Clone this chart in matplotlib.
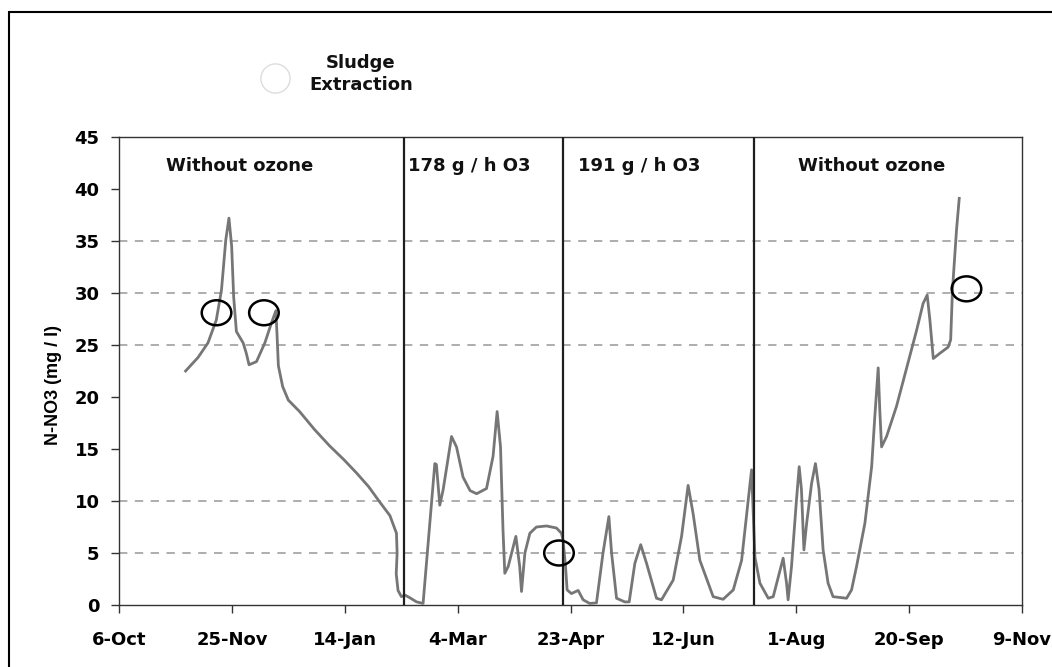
import numpy as np
import matplotlib
matplotlib.use('Agg')
import matplotlib.pyplot as plt
from matplotlib.patches import Ellipse, Rectangle

# x = days since 6-Oct, y = N-NO3 (mg/l)
days = [29.5, 35.0, 39.4, 43.1, 45.4, 47.3, 48.7, 49.9, 50.8, 52.0, 55.0, 56.4,
        57.6, 60.9, 64.6, 67.5, 69.5, 70.0, 70.6, 72.5, 75.0, 80.0, 86.5, 93.3,
        99.5, 105.2, 110.5, 115.5, 120.0, 122.9, 123.2, 122.8, 123.6, 125.1,
        126.6, 128.8, 131.8, 134.7, 139.9, 140.6, 142.1, 143.6, 147.3, 149.5,
        152.4, 155.5, 158.4, 162.8, 165.7, 167.5, 169.0, 170.1, 170.9, 172.4,
        175.8, 177.5, 178.3, 179.8, 182.0, 184.9, 189.4, 193.8, 196.0, 196.7,
        197.8, 198.5, 200.4, 203.4, 205.6, 208.5, 211.5, 214.4, 217.0, 218.2,
        220.4, 224.0, 226.0, 228.5, 231.1, 233.7, 238.1, 240.3, 245.5, 249.2,
        252.1, 254.3, 257.3, 263.2, 267.6, 272.1, 275.8, 280.2, 281.7, 283.9,
        287.6, 289.8, 294.2, 295.7, 296.4, 297.9, 300.1, 301.3, 302.3, 303.4,
        304.6, 306.8, 308.5, 310.1, 311.9, 314.1, 316.3, 322.3, 324.5, 326.7,
        330.4, 333.4, 334.8, 336.3, 337.0, 337.8, 340.0, 344.4, 353.3, 356.2,
        358.0, 359.2, 360.7, 363.6, 367.3, 368.4, 369.2, 369.8, 371.0, 372.2]
no3 = [22.5, 23.8, 25.2, 27.4, 30.3, 35.1, 37.2, 34.5, 29.6, 26.3, 25.2, 24.2,
       23.1, 23.4, 25.2, 27.1, 28.3, 26.0, 23.0, 21.0, 19.7, 18.6, 16.9, 15.3,
       14.0, 12.7, 11.4, 9.9, 8.6, 6.9, 5.0, 3.0, 1.4, 0.8,
       0.96, 0.7, 0.3, 0.15, 13.6, 13.5, 9.6, 11.1, 16.2, 15.2,
       12.3, 11.0, 10.7, 11.2, 14.3, 18.6, 15.2, 7.2, 3.05, 3.7,
       6.6, 3.7, 1.3, 5.0, 6.9, 7.5, 7.6, 7.4, 6.9, 6.25,
       3.7, 1.45, 1.1, 1.4, 0.5, 0.15, 0.2, 5.0, 8.5, 5.0,
       0.65, 0.3, 0.3, 4.0, 5.8, 4.0, 0.65, 0.5, 2.4, 6.6,
       11.5, 8.8, 4.3, 0.8, 0.55, 1.45, 4.3, 13.0, 4.6, 2.1,
       0.65, 0.8, 4.5, 2.1, 0.5, 3.7, 10.1, 13.3, 11.1, 5.3,
       7.85, 11.7, 13.6, 11.1, 5.3, 2.1, 0.8, 0.65, 1.45, 3.7,
       7.85, 13.3, 18.1, 22.8, 18.75, 15.2, 16.2, 19.1, 26.4, 29.0,
       29.8, 27.4, 23.7, 24.2, 24.8, 25.5, 30.3, 32.2, 36.1, 39.1]

# phase boundaries (days) and labels
phase_lines = [126.3, 196.7, 281.3]
phase_labels = ['Without ozone', '178 g / h O3', '191 g / h O3', 'Without ozone']
phase_label_x = [20.7, 128.0, 203.2, 300.7]

# sludge extraction marks
sludge_days = [43.2, 64.2, 194.9, 375.4]
sludge_vals = [28.1, 28.1, 5.0, 30.4]

tick_days = [0, 50, 100, 150, 200, 250, 300, 350, 400]
tick_labels = ['6-Oct', '25-Nov', '14-Jan', '4-Mar', '23-Apr', '12-Jun',
               '1-Aug', '20-Sep', '9-Nov']
grid_vals = [5, 10, 25, 30, 35]

plt.rcParams['font.family'] = ['DejaVu Sans']

fig = plt.figure(figsize=(10.52, 6.67), dpi=100)
ax = fig.add_axes([119 / 1052, 62 / 667, 903 / 1052, 468 / 667])

for g in grid_vals:
    ax.axhline(g, color='#a0a0a0', lw=1.2, ls=(0, (5, 4.5)), zorder=1)

ax.plot(days, no3, color='#767676', lw=2.0, zorder=3,
        solid_joinstyle='round')

for d in phase_lines:
    ax.axvline(d, color='#1e1e1e', lw=1.6, zorder=4)

for lab, x in zip(phase_labels, phase_label_x):
    ax.text(x, 42.2, lab, fontsize=13, fontweight='bold', va='center',
            ha='left', color='#111111')

for d, v in zip(sludge_days, sludge_vals):
    ax.add_patch(Ellipse((d, v), 13.1, 2.4, fill=False, ec='black',
                         lw=1.8, zorder=5))

# faint legend circle next to the caption
ax.plot([69], [50.7], marker='o', ms=21, mfc='none', mec='#dddddd',
        mew=1.0, clip_on=False)
fig.text(361 / 1052, 1 - 74 / 667, 'Sludge\nExtraction', fontsize=13,
         fontweight='bold', ha='center', va='center', linespacing=1.3,
         color='#111111')

ax.set_xlim(0, 400)
ax.set_ylim(0, 45)
ax.set_xticks(tick_days)
ax.set_xticklabels(tick_labels)
ax.set_yticks(range(0, 46, 5))
ax.tick_params(axis='x', direction='out', length=6, width=1,
               color='#333333', pad=13, labelsize=13)
ax.tick_params(axis='y', direction='out', length=6, width=1,
               color='#333333', pad=8, labelsize=13)
for t in ax.get_xticklabels() + ax.get_yticklabels():
    t.set_fontweight('bold')
for s in ax.spines.values():
    s.set_color('#333333')
    s.set_linewidth(1.0)

fig.text(53 / 1052, 1 - 385 / 667, 'N-NO3 (mg / l)', rotation=90,
         fontsize=13, fontweight='bold', ha='center', va='center',
         family=['Liberation Sans', 'DejaVu Sans'])

# outer frame of the scanned page (left and top edges visible)
fig.patches.append(Rectangle((9 / 1052, -0.1), 1.2, 1 - 12 / 667 + 0.1,
                             transform=fig.transFigure, fill=False,
                             ec='black', lw=1.5))

fig.savefig('out.png', dpi=100)
plt.close('all')
